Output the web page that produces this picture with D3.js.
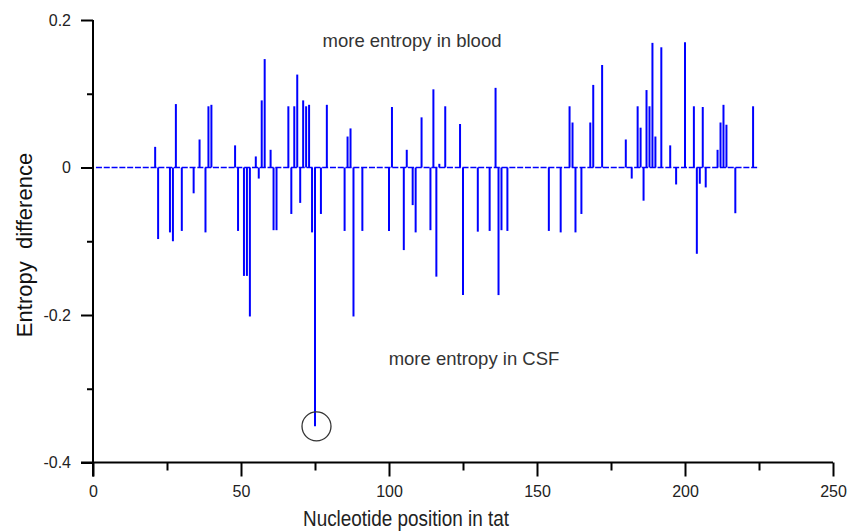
<!DOCTYPE html>
<html>
<head>
<meta charset="utf-8">
<script src="https://cdn.jsdelivr.net/npm/d3@7"></script>
<style>
  body { margin: 0; background: #fff; }
  svg { display: block; }
</style>
</head>
<body>
<svg width="856" height="532"></svg>
<script>
// nucleotide positions that have a non zero entropy difference
const positions = [21, 22, 26, 27, 28, 30, 34, 36, 38, 39, 40, 48, 49, 51, 52, 53, 55, 56, 57, 58,
  60, 61, 62, 66, 67, 68, 69, 70, 71, 72, 73, 74, 75, 77, 79, 85, 86, 87, 88, 91,
  100, 101, 105, 106, 108, 109, 111, 114, 115, 116, 117, 119, 124, 125, 130, 134, 136, 137, 138, 140,
  154, 158, 161, 162, 163, 165, 168, 169, 172, 180, 182, 184, 185, 186, 187, 188, 189, 190, 192, 195,
  197, 200, 203, 204, 205, 206, 207, 211, 212, 213, 214, 217, 223];
// entropy difference (blood - CSF) at each position
const diffs = [0.028, -0.097, -0.088, -0.100, 0.086, -0.086, -0.035, 0.038, -0.088, 0.083, 0.085, 0.030, -0.086, -0.147, -0.147, -0.202, 0.015, -0.015, 0.091, 0.147,
  0.024, -0.085, -0.085, 0.083, -0.063, 0.083, 0.126, -0.048, 0.091, 0.083, 0.085, -0.088, -0.351, -0.063, 0.085, -0.086, 0.042, 0.053, -0.202, -0.086,
  -0.086, 0.082, -0.112, 0.024, -0.051, -0.088, 0.068, -0.085, 0.106, -0.148, 0.005, 0.083, 0.059, -0.173, -0.087, -0.086, 0.108, -0.173, -0.085, -0.086,
  -0.086, -0.088, 0.083, 0.061, -0.088, -0.063, 0.061, 0.112, 0.139, 0.038, -0.015, 0.083, 0.054, -0.045, 0.105, 0.083, 0.169, 0.042, 0.163, 0.030,
  -0.023, 0.170, 0.083, -0.117, -0.022, 0.082, -0.027, 0.024, 0.061, 0.085, 0.058, -0.062, 0.083];
const seqRange = [1, 225];           // baseline, positions covered
const highlight = {pos: 75, value: -0.351};
const xTicks = [0, 25, 50, 75, 100, 125, 150, 175, 200, 225, 250];
const yTicks = [0.2, 0.1, 0, -0.1, -0.2, -0.3, -0.4];

const data = positions.map((p, i) => ({pos: p, value: diffs[i]}));

const svg = d3.select("svg");

const x = d3.scaleLinear().domain([0, 250]).range([93, 833]);
const y = d3.scaleLinear().domain([-0.4, 0.2]).range([462.5, 20]);

const font = "'Liberation Sans', Arial, sans-serif";
const isMajorY = d => Math.abs(Math.round(d * 10)) % 2 === 0;

// x axis: long ticks on the 50s, short ones between
const xAxis = svg.append("g")
  .attr("transform", "translate(0," + y(-0.4) + ")")
  .call(d3.axisBottom(x).tickValues(xTicks)
    .tickSize(0).tickFormat(d => d % 50 === 0 ? d : ""));
xAxis.select(".domain").attr("stroke", "#000").attr("stroke-width", 2)
  .attr("d", "M" + (x(0) - 12) + ",0H" + x(250));
xAxis.selectAll(".tick line")
  .attr("y2", d => d % 50 === 0 ? 14 : 8)
  .attr("stroke", "#000").attr("stroke-width", 2);
xAxis.selectAll(".tick text")
  .attr("y", 23)
  .style("font-family", font).style("font-size", "16px").attr("fill", "#222");

// y axis
const yAxis = svg.append("g")
  .attr("transform", "translate(" + x(0) + ",0)")
  .call(d3.axisLeft(y).tickValues(yTicks).tickSize(0)
    .tickFormat(d => isMajorY(d) ? (d === 0 ? "0" : d.toFixed(1)) : ""));
yAxis.select(".domain").attr("stroke", "#000").attr("stroke-width", 2)
  .attr("d", "M0," + y(0.2) + "V" + (y(-0.4) + 14));
yAxis.selectAll(".tick line")
  .attr("x2", d => isMajorY(d) ? -12 : -6)
  .attr("stroke", "#000").attr("stroke-width", 2);
yAxis.selectAll(".tick text")
  .attr("x", -22)
  .style("font-family", font).style("font-size", "16px").attr("fill", "#222");

// zero baseline
svg.append("line")
  .attr("x1", x(seqRange[0])).attr("x2", x(seqRange[1]))
  .attr("y1", y(0)).attr("y2", y(0))
  .attr("stroke", "#0000ff").attr("stroke-width", 1.6)
  .attr("stroke-dasharray", "6,1.8");

// stems
svg.append("g").selectAll("line")
  .data(data).enter()
  .append("line")
  .attr("x1", d => x(d.pos)).attr("x2", d => x(d.pos))
  .attr("y1", y(0)).attr("y2", d => y(d.value))
  .attr("stroke", "#0000ff").attr("stroke-width", 2);

// circle round the biggest difference
svg.append("circle")
  .attr("cx", x(highlight.pos) + 1.5).attr("cy", y(highlight.value))
  .attr("r", 14.5)
  .attr("fill", "none").attr("stroke", "#333").attr("stroke-width", 1.3);

// notes
svg.append("text")
  .attr("x", 412).attr("y", 47)
  .attr("text-anchor", "middle")
  .style("font-family", font).style("font-size", "18.5px")
  .attr("fill", "#333")
  .text("more entropy in blood");
svg.append("text")
  .attr("x", 474).attr("y", 365)
  .attr("text-anchor", "middle")
  .style("font-family", font).style("font-size", "18.5px")
  .attr("fill", "#333")
  .text("more entropy in CSF");

// axis titles
svg.append("text")
  .attr("transform", "translate(303,526) scale(0.86,1)")
  .style("font-family", font).style("font-size", "22px")
  .attr("fill", "#222")
  .text("Nucleotide position in tat");
svg.append("text")
  .attr("transform", "translate(32,245) rotate(-90)")
  .attr("text-anchor", "middle")
  .style("font-family", font).style("font-size", "22px")
  .style("white-space", "pre")
  .attr("fill", "#111")
  .text("Entropy  difference");
</script>
</body>
</html>
